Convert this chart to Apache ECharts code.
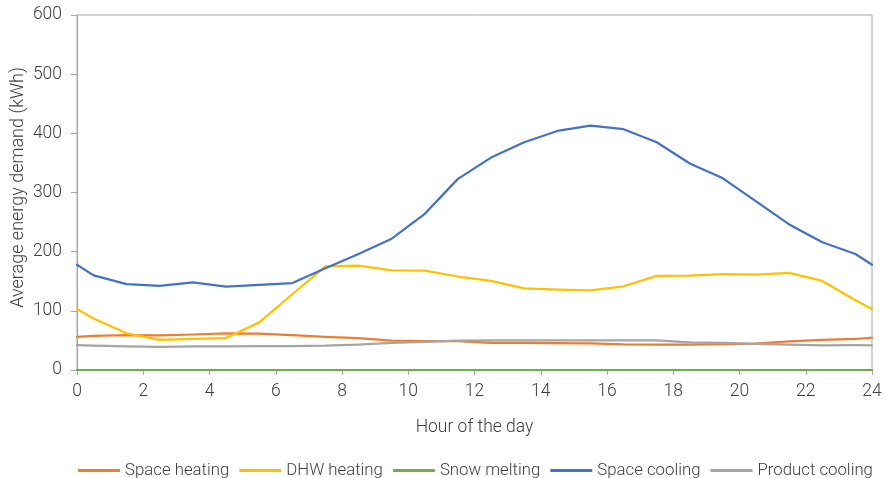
<!DOCTYPE html>
<html>
<head>
<meta charset="utf-8">
<script src="https://cdn.jsdelivr.net/npm/echarts@6/dist/echarts.min.js"></script>
<style>
  html, body { margin: 0; padding: 0; background: #fff; }
  #chart { width: 886px; height: 478px; }
</style>
</head>
<body>
<div id="chart"></div>
<script>
// Hour of the day at which each average is taken
const hours = [0, 0.5, 1.5, 2.5, 3.5, 4.5, 5.5, 6.5, 7.5, 8.5, 9.5, 10.5, 11.5,
               12.5, 13.5, 14.5, 15.5, 16.5, 17.5, 18.5, 19.5, 20.5, 21.5, 22.5, 23.5, 24];

// Average energy demand (kWh) per end use
const spaceHeating = [56, 57.5, 59, 58.5, 60, 62, 61.5, 59, 56, 54, 49.6, 49, 49,
                      46, 46, 45.6, 45, 43.3, 43, 43, 43.6, 44.6, 48.4, 51, 52.4, 54.6];
const dhwHeating = [103, 87, 62, 51, 52.5, 54, 80.5, 128, 175, 176.5, 168.5, 168, 158,
                    150.5, 138, 136, 134.6, 141.5, 159, 159.5, 162, 161, 164, 150.5, 118, 103];
const snowMelting = [0, 0, 0, 0, 0, 0, 0, 0, 0, 0, 0, 0, 0,
                     0, 0, 0, 0, 0, 0, 0, 0, 0, 0, 0, 0, 0];
const spaceCooling = [178, 160, 145, 142, 148, 141, 144, 147, 172, 196, 222, 264, 323,
                      359, 385, 404, 413, 407, 385, 349, 324, 285, 246, 216, 196, 178];
const productCooling = [42, 41, 40, 39, 40, 40, 40.5, 40.5, 41, 43, 46, 47.6, 49.5,
                        50, 50, 50, 50, 50, 50, 46.6, 46, 44, 43, 41.6, 42, 41.6];

const seriesNames = ['Space heating', 'DHW heating', 'Snow melting', 'Space cooling', 'Product cooling'];
const seriesValues = [spaceHeating, dhwHeating, snowMelting, spaceCooling, productCooling];
const seriesColors = ['#ED7D31', '#FFC000', '#70AD47', '#4472C4', '#A5A5A5'];

const FONT = 'Roboto';
const TEXT = '#404040';
const AXIS = '#A6A6A6';

const chart = echarts.init(document.getElementById('chart'), null, { renderer: 'canvas' });

chart.setOption({
  animation: false,
  backgroundColor: '#ffffff',
  textStyle: { fontFamily: FONT },
  grid: {
    left: 77, right: 14, top: 15, bottom: 108,
    outerBoundsMode: 'none',
    containLabel: false,
    show: true, borderColor: AXIS, borderWidth: 1
  },
  legend: {
    top: 457,
    left: 73,
    icon: 'rect',
    itemWidth: 42,
    itemHeight: 3,
    itemGap: 10,
    textStyle: { fontFamily: FONT, fontSize: 16.8, fontWeight: 300, color: TEXT },
    data: seriesNames
  },
  xAxis: {
    type: 'value',
    min: 0, max: 24, interval: 2,
    name: 'Hour of the day',
    nameLocation: 'middle',
    nameGap: 49,
    nameMoveOverlap: false,
    nameTextStyle: { fontFamily: FONT, fontSize: 17.5, fontWeight: 300, color: TEXT },
    axisLine: { show: true, lineStyle: { color: AXIS, width: 1 } },
    axisTick: { show: true, inside: false, length: 5, lineStyle: { color: AXIS } },
    axisLabel: { margin: 13, fontFamily: FONT, fontSize: 17.5, fontWeight: 300, color: TEXT },
    splitLine: { show: false }
  },
  yAxis: {
    type: 'value',
    min: 0, max: 600, interval: 100,
    name: 'Average energy demand (kWh)',
    nameLocation: 'middle',
    nameGap: 50,
    nameRotate: 90,
    nameMoveOverlap: false,
    nameTextStyle: { fontFamily: FONT, fontSize: 18, fontWeight: 300, color: TEXT, padding: [0, 0, 0, 10] },
    axisLine: { show: true, lineStyle: { color: AXIS, width: 1 } },
    axisTick: { show: true, inside: false, length: 6, lineStyle: { color: AXIS } },
    axisLabel: { margin: 15, fontFamily: FONT, fontSize: 17.5, fontWeight: 300, color: TEXT },
    splitLine: { show: false }
  },
  series: seriesNames.map((name, i) => ({
    name: name,
    type: 'line',
    data: hours.map((h, j) => [h, seriesValues[i][j]]),
    symbol: 'none',
    smooth: false,
    color: seriesColors[i],
    lineStyle: { width: 2.25, color: seriesColors[i], join: 'round', cap: 'round' },
    emphasis: { disabled: true }
  }))
});
</script>
</body>
</html>
